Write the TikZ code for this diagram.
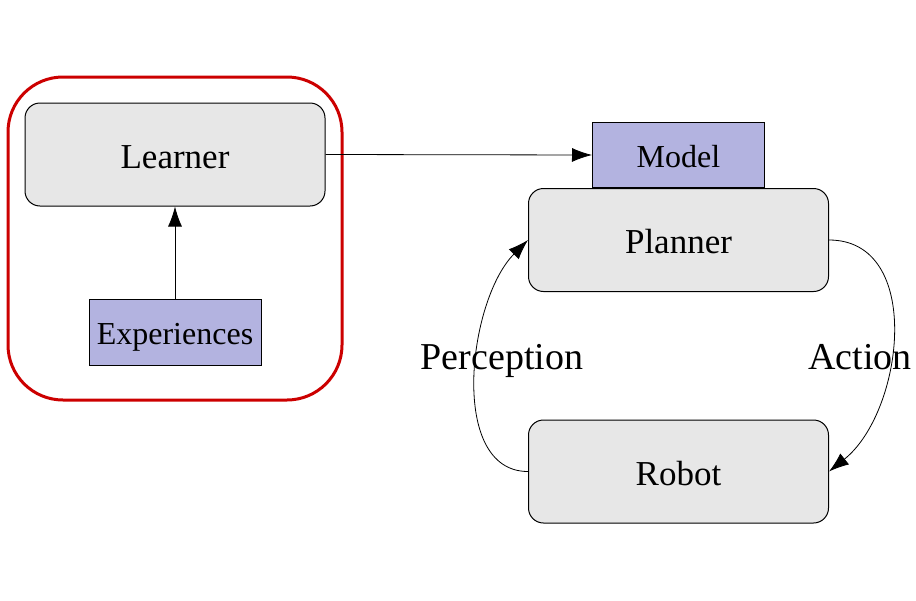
\documentclass[tikz,border=0pt]{standalone}
\usepackage{fontspec}
\setmainfont{Liberation Serif}
\usepackage{xcolor}
\usepackage{tikz}
\definecolor{boxgray}{RGB}{231,231,231}
\definecolor{lavender}{RGB}{179,179,224}
\definecolor{darkred}{RGB}{204,0,0}
\usetikzlibrary{shapes,arrows,arrows.meta,positioning,calc}

\begin{document}
\begin{tikzpicture}[
    x=1pt, y=-1pt,
    block/.style={rectangle, draw=black, line width=1pt, rounded corners=15pt, fill=boxgray, minimum width=300pt, minimum height=103pt, text height=31pt, text depth=4pt, text centered, font=\fontsize{35}{40}\selectfont},
    data/.style={rectangle, draw=black, line width=1pt, fill=lavender, minimum width=172pt, minimum height=66pt, text height=28pt, text depth=4pt, text centered, font=\fontsize{32}{38}\selectfont},
    lbl/.style={anchor=base, font=\fontsize{38}{44}\selectfont},
    arrow/.style={-{Latex[length=20pt,width=14pt]}, line width=0.8pt}
]
\useasboundingbox (0,0) rectangle (916,600);

% learning side
\draw[darkred, line width=3pt, rounded corners=55pt] (8,77) rectangle (342,400);
\node[block] (learner) at (175,154.5) {Learner};
\node[data] (exp) at (175,332) {Experiences};

% planning loop
\node[block] (planner) at (678.5,240) {Planner};
\node[data, minimum height=65pt, above=0pt of planner] (model) {Model};
\node[block] (robot) at (678.5,471.5) {Robot};

\draw[arrow] (exp) -- (learner);
\draw[arrow] (learner.east) -- (model.west);
\draw[arrow] (planner.east) .. controls +(95,0) and +(75,-60) .. (robot.east);
\draw[arrow] (robot.west) .. controls +(-80,0) and +(-60,60) .. (planner.west);

\node[lbl] (perc) at (502,369) {Perception};
\node[lbl] (act) at (860,369) {Action};

\end{tikzpicture}
\end{document}
